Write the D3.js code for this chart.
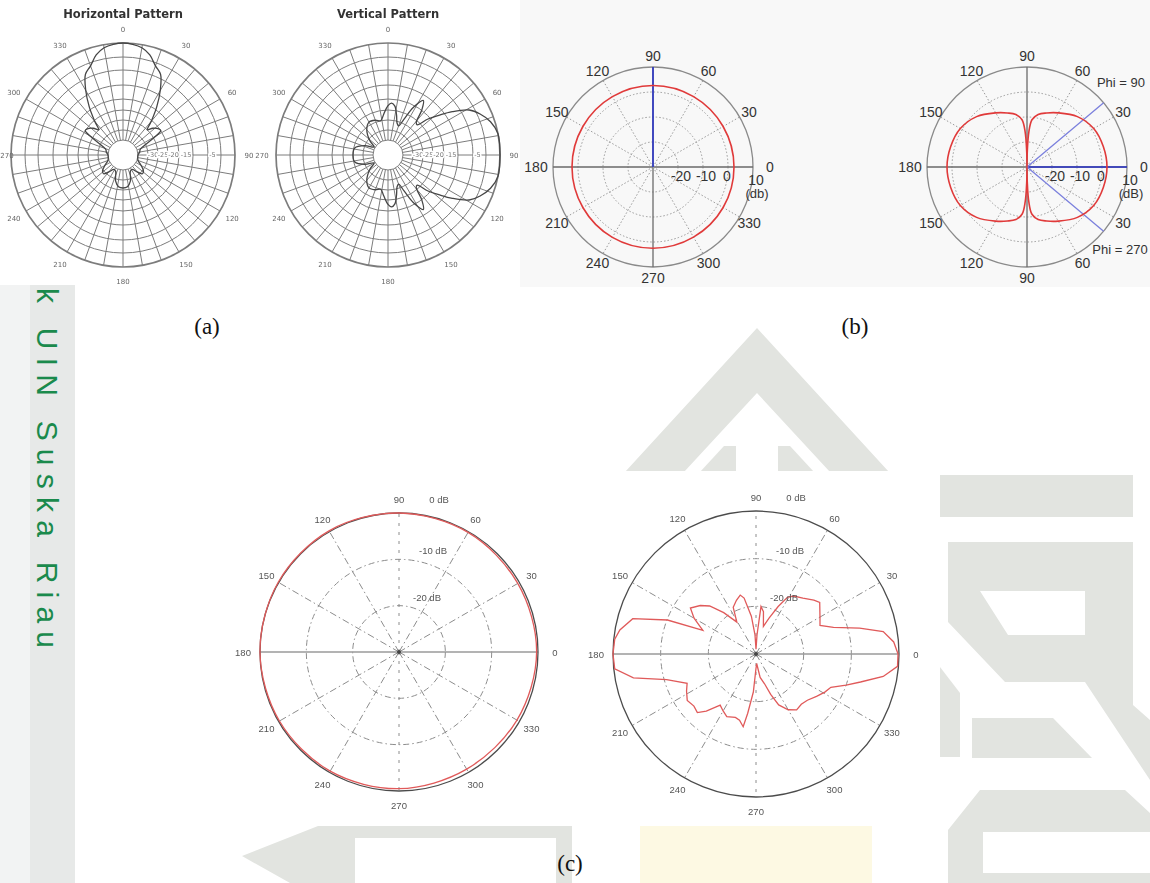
<!DOCTYPE html>
<html>
<head>
<meta charset="utf-8">
<script src="https://cdn.jsdelivr.net/npm/d3@7"></script>
<style>
  html, body { margin: 0; padding: 0; background: #fff; }
  svg { display: block; }
</style>
</head>
<body>
<svg id="fig" width="1150" height="883"></svg>
<script>
// ---------------- data ----------------
// (a) antenna patterns: compass angle (deg, clockwise from top) and level in dB
const horizAngles = [0,5,10,15,20,25,30,35,40,44,48,53,57,61,66,72,80,90,100,110,120,128,134,140,148,156,164,172,180,
                     188,196,204,212,220,226,232,240,250,260,270,280,288,294,299,303,307,312,316,320,325,330,335,340,345,350,355];
const horizDb     = [0,-0.3,-1.1,-3,-6.2,-8.5,-13.5,-19,-25.5,-30,-27.5,-25.5,-25,-30,-36,-38.5,-39,-40,-40,-39.5,-37,-34.5,-34,-36.5,-39,-38.5,-34,-31.5,-31,
                     -31.5,-34,-38.5,-39,-36.5,-34,-34.5,-37,-39.5,-40,-40,-39,-38.5,-36,-30,-25,-25.5,-27.5,-30,-25.5,-19,-13.5,-8.5,-6.2,-3,-1.1,-0.3];

const vertAngles = [0,4,8,12,16,20,24,28,33,37,41,44,48,52,56,61,66,72,79,90,101,108,114,119,124,128,132,136,139,143,147,152,156,160,164,168,172,176,
                    180,186,192,200,210,220,232,240,248,258,270,282,292,300,308,320,330,340,348,354];
const vertDb     = [-23,-21.8,-23,-27,-31,-32,-28,-21,-16.8,-20,-26,-26.5,-21,-17,-12.5,-7,-4,-1.5,0,0,0,-1.5,-4,-7,-12.5,-17,-21,-26.5,-26,-20,-16.8,-21,-28,-32,-31,-27,-23,-21.8,
                    -23,-27,-30,-29,-28.5,-31,-36,-39.5,-35,-30.5,-30,-30.5,-35,-39.5,-36,-31,-28.5,-29,-30,-27];
const patternRings = [-40,-35,-30,-25,-20,-15,-10,-5,0];
const patternAxisLabels = ["-30","-25","-20","-15","-5"];
const compassTicks = [0,30,60,90,120,150,180,210,240,270,300,330];

// (b) simulated patterns: angle (deg, counter-clockwise from 0) and gain in dB
const omniAngles = [0,30,60,90,120,150,180,210,240,270,300,330];
const omniDb     = [2.4,2.4,2.5,2.6,2.5,2.4,2.4,2.4,2.5,2.5,2.4,2.4];
const dipoleAngles = [0,15,30,45,60,70,78,84,87,89,90,91,93,96,102,110,120,135,150,165,
                      180,195,210,225,240,250,258,264,267,269,270,271,273,276,282,290,300,315,330,345];
const dipoleDb     = [2,1.6,0.8,-1.5,-5,-7,-8.5,-11,-16,-24,-30,-24,-16,-11,-8.5,-7,-5,-1.5,0.8,1.6,
                      2,1.6,0.8,-1.5,-5,-7,-8.5,-11,-16,-24,-30,-24,-16,-11,-8.5,-7,-5,-1.5,0.8,1.6];
const bRings = [-20,-10,0,10];
const bLabelsLeft  = ["0","30","60","90","120","150","180","210","240","270","300","330"];
const bLabelsRight = ["0","30","60","90","120","150","180","150","120","90","60","30"];
const phiLines = [0,40,-40];

// (c) measured patterns: angle (deg, counter-clockwise) and normalised level in dB
const measAngles1 = [0,30,60,90,120,150,180,210,240,270,300,330];
const measDb1     = [-0.3,-0.4,-0.2,0,0.2,0.1,0,-0.2,-0.3,-0.5,-0.8,-0.6];
const measAngles2 = [0,5,10,14,19,24,30,39,43,50,57,61,65,70,75,80,84,87,90,93,97,102,105,110,116,121,128,134,139,145,150,154,156,159,164,170,174,
                     180,186,191,196,203,208,214,220,225,229,235,240,245,252,256,260,262,266,270,274,280,286,290,294,300,306,312,318,325,331,336,341,345,350,355];
const measDb2     = [-0.2,-1,-2.9,-7.6,-12.8,-15.3,-14.5,-12.8,-13.4,-14.7,-15.5,-16.4,-19,-22,-24,-21,-20,-26,-29,-26,-22,-18,-17.2,-18,-19.1,-22.2,-19,-16,-14.5,-13.2,-15,-17,-17.8,-10.1,-3.1,-1,-0.2,
                     0,-0.2,-3.8,-10.5,-14.3,-13.5,-12.6,-13,-12.6,-14.1,-16.9,-16.2,-15.5,-16,-15.7,-14.5,-17.4,-22,-27,-28,-25,-23.5,-21,-18.3,-16.5,-15.5,-15.8,-15.5,-14.5,-13.5,-12.8,-10,-7.3,-2.9,-0.2];
const cRings = [-20,-10];
const cRingLabels = ["-20 dB","-10 dB","0 dB"];

const captions = ["(a)","(b)","(c)"];
const watermarkText = "k UIN Suska Riau";

// ---------------- drawing ----------------
const svg = d3.select("#fig");
const deg = Math.PI / 180;
const compassXY = (a, r) => [r * Math.sin(a * deg), -r * Math.cos(a * deg)];
const mathXY = (a, r) => [r * Math.cos(a * deg), -r * Math.sin(a * deg)];

const defs = svg.append("defs");
defs.append("filter").attr("id", "soft").attr("x", "-5%").attr("y", "-5%").attr("width", "110%").attr("height", "110%")
  .append("feGaussianBlur").attr("stdDeviation", 0.45);

svg.append("rect").attr("width", 1150).attr("height", 883).attr("fill", "#fff");

// background watermark shapes
const wm = svg.append("g").attr("fill", "#e2e4e0");
const poly = pts => "M" + pts.map(p => p.join(",")).join("L") + "Z";
wm.append("path").attr("fill-rule", "evenodd")
  .attr("d", poly([[757,328],[625,472],[889,472]]) + poly([[757,393],[684,472],[830,472]]));
wm.append("path").attr("d", poly([[724,446],[736,446],[736,472],[700,472]]));
wm.append("path").attr("d", poly([[778,446],[790,446],[814,472],[778,472]]));
wm.append("path").attr("d", poly([[940,475],[1133,475],[1133,517],[940,517]]));
wm.append("path").attr("fill-rule", "evenodd")
  .attr("d", poly([[948,542],[1133,542],[1133,705],[1150,720],[1150,780],[1085,682],[1005,682],[948,622]]) +
             poly([[980,591],[1085,591],[1085,635],[1008,635]]));
wm.append("path").attr("d", poly([[940,667],[960,693],[960,757],[940,757]]));
wm.append("path").attr("d", poly([[972,718],[1053,718],[1092,758],[972,758]]));
wm.append("path").attr("fill-rule", "evenodd")
  .attr("d", poly([[948,883],[948,830],[980,790],[1125,790],[1150,813],[1150,883]]) +
             poly([[983,832],[1150,832],[1150,873],[983,873]]));
wm.append("path").attr("fill-rule", "evenodd")
  .attr("d", poly([[242,856],[318,826],[572,826],[572,883],[290,883]]) +
             poly([[355,838],[556,838],[556,883],[355,883]]));
svg.append("rect").attr("x", 640).attr("y", 826).attr("width", 232).attr("height", 57).attr("fill", "#fdf9e3");

// left margin band with vertical text
svg.append("rect").attr("x", 0).attr("y", 285).attr("width", 30).attr("height", 598).attr("fill", "#f2f3f3");
svg.append("rect").attr("x", 30).attr("y", 285).attr("width", 45).attr("height", 598).attr("fill", "#e7e9e8");
svg.append("text").text(watermarkText)
  .attr("transform", "translate(37,288) rotate(90)")
  .attr("font-family", "Liberation Sans, Arial, sans-serif").attr("font-size", 30)
  .attr("textLength", 360).attr("lengthAdjust", "spacing")
  .attr("fill", "#1a8a4c");

// panel backgrounds
svg.append("rect").attr("x", 0).attr("y", 0).attr("width", 520).attr("height", 285).attr("fill", "#fff");
svg.append("rect").attr("x", 520).attr("y", 0).attr("width", 630).attr("height", 287).attr("fill", "#f8f8f8");
svg.append("rect").attr("x", 225).attr("y", 480).attr("width", 375).attr("height", 342).attr("fill", "#fff");
svg.append("rect").attr("x", 600).attr("y", 471).attr("width", 336).attr("height", 351).attr("fill", "#fff");

// ---- (a) grid-style pattern plots ----
function drawPatternPanel(cx, cy, title, angles, values) {
  const g = svg.append("g").attr("transform", `translate(${cx},${cy})`).attr("filter", "url(#soft)");
  const r = d3.scaleLinear().domain(patternRings).range([15,25,35,45,56,70,85,98,112]);
  g.selectAll("circle.ring").data(patternRings).join("circle").attr("class", "ring")
    .attr("r", d => r(d)).attr("fill", "none").attr("stroke", "#7c7c7c")
    .attr("stroke-width", d => d === 0 ? 1.7 : 1);
  g.selectAll("line.spoke").data(d3.range(0, 360, 10)).join("line").attr("class", "spoke")
    .attr("x1", d => compassXY(d, r(-40))[0]).attr("y1", d => compassXY(d, r(-40))[1])
    .attr("x2", d => compassXY(d, r(0))[0]).attr("y2", d => compassXY(d, r(0))[1])
    .attr("stroke", "#7c7c7c").attr("stroke-width", 1);
  // level labels on the 90° spoke
  const mids = d3.range(1, patternAxisLabels.length + 1).map(i => (r(patternRings[i]) + r(patternRings[i + 1])) / 2);
  g.selectAll("text.lvl").data(patternAxisLabels).join("text").attr("class", "lvl")
    .attr("x", (d, i) => mids[i] + (i === patternAxisLabels.length - 1 ? 12 : 0)).attr("y", 2)
    .attr("text-anchor", "middle").attr("font-size", 6.5).attr("font-family", "DejaVu Sans, sans-serif")
    .attr("fill", "#777").attr("stroke", "#fff").attr("stroke-width", 3).attr("paint-order", "stroke")
    .text(d => d);
  // pattern trace
  const trace = d3.lineRadial().angle(d => d[0] * deg).radius(d => r(d[1])).curve(d3.curveCatmullRomClosed);
  g.append("path").datum(d3.zip(angles, values)).attr("d", trace)
    .attr("fill", "none").attr("stroke", "#454545").attr("stroke-width", 1.3);
  // angle labels (kept inside the page at the left edge)
  g.selectAll("text.ang").data(compassTicks).join("text").attr("class", "ang")
    .attr("x", d => Math.max(compassXY(d, 126)[0], 7 - cx)).attr("y", d => compassXY(d, 126)[1] + 2.5)
    .attr("text-anchor", "middle").attr("font-size", 7).attr("font-family", "DejaVu Sans, sans-serif")
    .attr("fill", "#666").text(d => d);
  svg.append("text").attr("x", cx).attr("y", 18).attr("text-anchor", "middle")
    .attr("font-family", "DejaVu Sans, sans-serif").attr("font-weight", "bold").attr("font-size", 11.5)
    .attr("fill", "#333").attr("filter", "url(#soft)").text(title);
}
drawPatternPanel(123, 155, "Horizontal Pattern", horizAngles, horizDb);
drawPatternPanel(388, 155, "Vertical Pattern", vertAngles, vertDb);

// ---- (b) simulation-style polar plots ----
function drawSimPanel(cx, cy, labels, angles, values, unit, blue) {
  const R = 100;
  const g = svg.append("g").attr("transform", `translate(${cx},${cy})`);
  const r = d3.scaleLinear().domain([-30, 10]).range([0, R]);
  g.selectAll("circle.ring").data(bRings).join("circle").attr("class", "ring")
    .attr("r", d => r(d)).attr("fill", "none")
    .attr("stroke", d => d === 10 ? "#8a8a8a" : "#9a9a9a")
    .attr("stroke-width", d => d === 10 ? 1.3 : 1)
    .attr("stroke-dasharray", d => d === 10 ? null : "1.5,2");
  g.selectAll("line.spoke").data(d3.range(0, 360, 30)).join("line").attr("class", "spoke")
    .attr("x2", d => mathXY(d, R)[0]).attr("y2", d => mathXY(d, R)[1])
    .attr("stroke", d => d % 90 === 0 ? "#6a6a6a" : "#9a9a9a")
    .attr("stroke-width", d => d % 90 === 0 ? 1.3 : 1)
    .attr("stroke-dasharray", d => d % 90 === 0 ? null : "1.5,2");
  g.selectAll("line.blue").data(blue).join("line").attr("class", "blue")
    .attr("x2", d => mathXY(d, R)[0]).attr("y2", d => mathXY(d, R)[1])
    .attr("stroke", d => d === blue[0] ? "#2b35c8" : "#7b80dd")
    .attr("stroke-width", d => d === blue[0] ? 1.6 : 1.3);
  const trace = d3.lineRadial().angle(d => (90 - d[0]) * deg).radius(d => r(d[1])).curve(d3.curveCatmullRomClosed.alpha(0.5));
  g.append("path").datum(d3.zip(angles, values)).attr("d", trace)
    .attr("fill", "none").attr("stroke", "#e03a3a").attr("stroke-width", 1.6);
  g.selectAll("text.ang").data(d3.range(0, 360, 30)).join("text").attr("class", "ang")
    .attr("x", d => mathXY(d, R + 11 + (Math.abs(Math.cos(d * deg)) > 0.99 ? 6 : 0))[0])
    .attr("y", d => mathXY(d, R + 11)[1] + 5)
    .attr("text-anchor", "middle").attr("font-family", "Liberation Sans, Arial, sans-serif").attr("font-size", 14)
    .attr("fill", "#333").text((d, i) => labels[i]);
  g.selectAll("text.lvl").data(bRings).join("text").attr("class", "lvl")
    .attr("x", d => r(d) + (d === 0 ? -1 : 3)).attr("y", d => d === 10 ? 18 : 14)
    .attr("text-anchor", "middle").attr("font-family", "Liberation Sans, Arial, sans-serif").attr("font-size", 14)
    .attr("fill", "#333").text(d => d);
  g.append("text").attr("x", r(10) + 4).attr("y", 31).attr("text-anchor", "middle")
    .attr("font-family", "Liberation Sans, Arial, sans-serif").attr("font-size", 13).attr("fill", "#333").text(unit);
  return g;
}
drawSimPanel(653, 167, bLabelsLeft, omniAngles, omniDb, "(db)", [90]);
const bRight = drawSimPanel(1027, 167, bLabelsRight, dipoleAngles, dipoleDb, "(dB)", phiLines);
bRight.append("text").attr("x", 94).attr("y", -80).attr("text-anchor", "middle")
  .attr("font-family", "Liberation Sans, Arial, sans-serif").attr("font-size", 13).attr("fill", "#333").text("Phi = 90");
bRight.append("text").attr("x", 93).attr("y", 87).attr("text-anchor", "middle")
  .attr("font-family", "Liberation Sans, Arial, sans-serif").attr("font-size", 13).attr("fill", "#333").text("Phi = 270");

// ---- (c) measured polar plots ----
function drawMeasPanel(cx, cy, R, angles, values, curve) {
  const g = svg.append("g").attr("transform", `translate(${cx},${cy})`).attr("filter", "url(#soft)");
  const r = d3.scaleLinear().domain([-30, 0]).range([0, R]);
  g.selectAll("circle.ring").data(cRings).join("circle").attr("class", "ring")
    .attr("r", d => r(d)).attr("fill", "none").attr("stroke", "#8c8c8c").attr("stroke-width", 1)
    .attr("stroke-dasharray", "6,3,1.5,3");
  g.selectAll("line.spoke").data(d3.range(0, 360, 30)).join("line").attr("class", "spoke")
    .attr("x2", d => mathXY(d, R)[0]).attr("y2", d => mathXY(d, R)[1])
    .attr("stroke", d => d % 180 === 0 ? "#9a9a9a" : "#8c8c8c").attr("stroke-width", d => d % 180 === 0 ? 1.4 : 1)
    .attr("stroke-dasharray", d => d % 180 === 0 ? null : (d % 90 === 0 ? "3,6" : "7,3,1.5,3"));
  g.append("circle").attr("r", r(0)).attr("fill", "none").attr("stroke", "#4c4c4c").attr("stroke-width", 1.3);
  const trace = d3.lineRadial().angle(d => (90 - d[0]) * deg).radius(d => r(d[1])).curve(curve);
  g.append("path").datum(d3.zip(angles, values)).attr("d", trace)
    .attr("fill", "none").attr("stroke", "#e05a5a").attr("stroke-width", 1.3);
  g.selectAll("text.ang").data(d3.range(0, 360, 30)).join("text").attr("class", "ang")
    .attr("x", d => mathXY(d, R + 14 + (Math.abs(Math.cos(d * deg)) > 0.99 ? 3 : 0))[0])
    .attr("y", d => mathXY(d, R + 14)[1] + 3.5)
    .attr("text-anchor", "middle").attr("font-family", "Liberation Sans, Arial, sans-serif").attr("font-size", 9.5)
    .attr("fill", "#555").text(d => d);
  g.selectAll("text.lvl").data([-20, -10, 0]).join("text").attr("class", "lvl")
    .attr("x", (d, i) => 28 + i * 6).attr("y", d => -r(d) - (d === 0 ? 10 : 5))
    .attr("text-anchor", "middle").attr("font-family", "Liberation Sans, Arial, sans-serif").attr("font-size", 9.5)
    .attr("fill", "#555").text((d, i) => cRingLabels[i]);
  g.append("circle").attr("r", 2).attr("fill", "#444");
}
drawMeasPanel(399, 652, 139, measAngles1, measDb1, d3.curveCatmullRomClosed);
drawMeasPanel(756, 654, 143, measAngles2, measDb2, d3.curveLinearClosed);

// captions
const capPos = [[207, 334], [855, 334], [570, 871]];
svg.selectAll("text.cap").data(captions).join("text").attr("class", "cap")
  .attr("x", (d, i) => capPos[i][0]).attr("y", (d, i) => capPos[i][1])
  .attr("text-anchor", "middle").attr("font-family", "Liberation Serif, Times New Roman, serif").attr("font-size", 23)
  .attr("fill", "#111").text(d => d);
</script>
</body>
</html>
